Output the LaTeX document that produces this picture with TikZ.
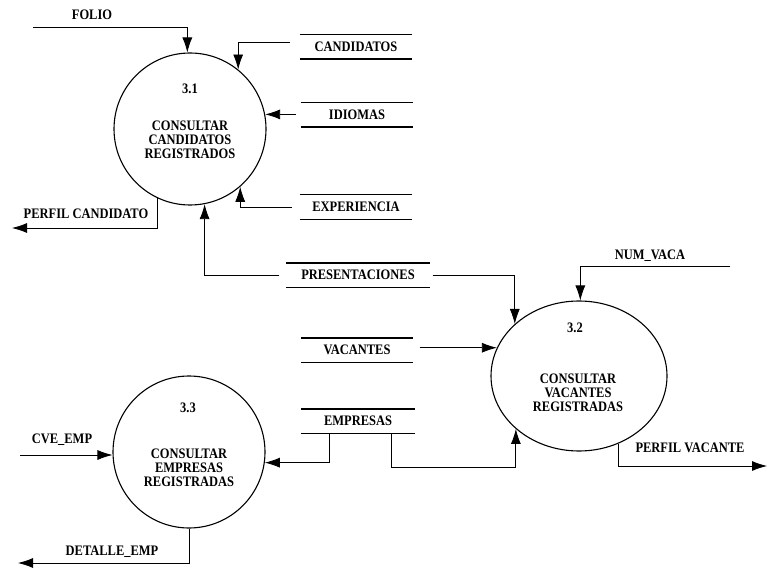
\documentclass[tikz,border=0pt]{standalone}
\usepackage{fontspec}
\setmainfont[FakeStretch=0.86]{Liberation Serif}
\usetikzlibrary{shapes.geometric,arrows.meta,calc}
\begin{document}
\begin{tikzpicture}[x=1pt,y=-1pt,
  every node/.style={font=\bfseries\fontsize{14.5}{14}\selectfont, inner sep=0pt},
  proc/.style={draw, ellipse, line width=1.1pt, inner sep=0pt},
  store/.style={minimum height=24pt, minimum width=#1, inner sep=0pt},
  storeline/.style={line width=1.4pt},
  flow/.style={line width=0.8pt},
  arr/.style={flow, -{Latex[length=15pt,width=10pt]}}
]
\useasboundingbox (0,0) rectangle (768,572);

% processes
\node[proc, minimum width=152pt, minimum height=152pt] (c31) at (190,129) {};
\node[proc, minimum width=176pt, minimum height=150pt] (c32) at (579,376) {};
\node[proc, minimum width=152pt, minimum height=152pt] (c33) at (189,452) {};

\node (n31) at (190,89) {3.1};
\node[align=center] (t31) at (190,140) {CONSULTAR\\CANDIDATOS\\REGISTRADOS};
\node (n32) at (575,328) {3.2};
\node[align=center] (t32) at (578,393) {CONSULTAR\\VACANTES\\REGISTRADAS};
\node (n33) at (188,408) {3.3};
\node[align=center] (t33) at (189,468) {CONSULTAR\\EMPRESAS\\REGISTRADAS};

% data stores
\node[store=112pt] (sCand) at (356,47) {CANDIDATOS};
\node[store=112pt] (sIdi) at (357,115) {IDIOMAS};
\node[store=112pt] (sExp) at (356,207) {EXPERIENCIA};
\node[store=143pt] (sPres) at (358,275) {PRESENTACIONES};
\node[store=111pt] (sVac) at (357,350) {VACANTES};
\node[store=113pt] (sEmp) at (358,421) {EMPRESAS};
\foreach \s in {sCand,sIdi,sExp,sPres,sVac,sEmp}{
  \draw[storeline] (\s.north west) -- (\s.north east);
  \draw[storeline] (\s.south west) -- (\s.south east);
}

% external endpoints
\coordinate (folioIn) at (33,27);
\coordinate (pcOut) at (12,228);
\coordinate (nvIn) at (730,266);
\coordinate (pvOut) at (767,466);
\coordinate (cveIn) at (20,455);
\coordinate (deOut) at (18,563);
\coordinate (empTurn) at (0,467);

% flow labels
\node (lFolio) at (92,15) {FOLIO};
\node (lPC) at (86,214) {PERFIL CANDIDATO};
\node (lNV) at (650,256) {NUM\_VACA};
\node (lPV) at (690,448) {PERFIL VACANTE};
\node (lCVE) at (62,440) {CVE\_EMP};
\node (lDE) at (112,552) {DETALLE\_EMP};

% flows around 3.1
\draw[arr] (folioIn) -| (c31.92);
\draw[arr] ($(sCand.west)+(-10,-5)$) -| (c31.51);
\draw[arr, shorten <=5pt] (sIdi.west |- c31.11) -- (c31.11);
\draw[arr, shorten <=8pt] (sExp.west) -| (c31.-49);
\draw[arr] (c31.-115) |- (pcOut);
\draw[arr, shorten <=7pt] (sPres.west) -| (c31.-79);

% flows around 3.2
\draw[arr, shorten <=3pt] (sPres.east) -| (c32.141);
\draw[arr] (nvIn) -| (c32.89);
\draw[arr, shorten <=7pt] (sVac.east |- c32.161) -- (c32.161);
\draw[arr] ($(sEmp.south west)+(90,0)$) |- (empTurn -| c32.220) -- (c32.220);
\draw[arr] (c32.-60) |- (pvOut);

% flows around 3.3
\draw[arr] (cveIn) -- (cveIn -| c33.west);
\draw[arr] ($(sEmp.south west)+(28,0)$) |- (c33.-8);
\draw[arr] (c33.south) |- (deOut);
\end{tikzpicture}
\end{document}
